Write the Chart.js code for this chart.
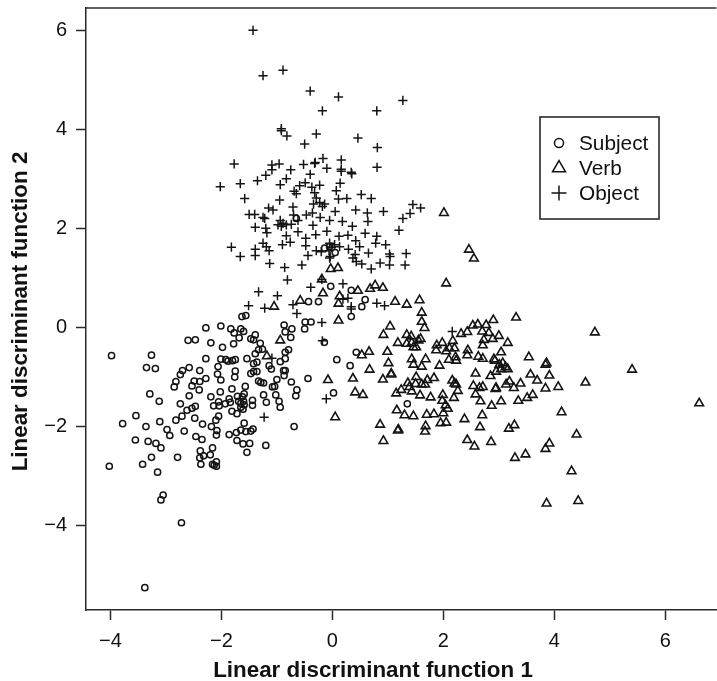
<!DOCTYPE html>
<html>
<head>
<meta charset="utf-8">
<title>Linear discriminant functions</title>
<script src="https://cdn.jsdelivr.net/npm/chart.js@4/dist/chart.umd.js"></script>
<style>
  html, body { margin: 0; padding: 0; background: #fff; overflow: hidden; width: 717px; height: 681px; }
  canvas { display: block; }
</style>
</head>
<body>
<!-- o original esta cortado a direita: o canvas passa um pouco da janela -->
<canvas id="grafico" width="723" height="681"></canvas>
<script>
// valores
const xTicks = [-4, -2, 0, 2, 4, 6];
const yTicks = [-4, -2, 0, 2, 4, 6];
const xTitle = "Linear discriminant function 1";
const yTitle = "Linear discriminant function 2";
const seriesNames = ["Subject", "Verb", "Object"];

const subject = [
  [-3.98,-0.57],[-3.26,-0.56],[-3.35,-0.81],[-3.19,-0.83],[-3.78,-1.94],[-3.54,-1.78],[-3.36,-2.00],[-3.11,-1.90],
  [-3.55,-2.27],[-3.32,-2.30],[-3.18,-2.34],[-3.09,-2.43],[-3.26,-2.62],[-3.42,-2.76],[-4.02,-2.80],[-3.15,-2.92],
  [-3.29,-1.34],[-3.12,-1.49],[-3.05,-3.38],[-3.09,-3.48],[-2.72,-3.94],[-3.38,-5.25],[-1.63,0.22],[-1.56,0.24],
  [-2.28,-0.01],[-2.01,0.03],[-1.83,-0.03],[-1.65,-0.03],[-1.77,-0.11],[-1.60,-0.08],[-1.68,-0.21],[-1.39,-0.15],
  [-1.47,-0.23],[-1.42,-0.25],[-2.60,-0.26],[-2.47,-0.25],[-2.19,-0.31],[-1.78,-0.33],[-1.98,-0.40],[-1.30,-0.32],
  [-1.26,-0.44],[-1.33,-0.45],[-1.39,-0.53],[-0.87,0.05],[-0.85,-0.09],[-0.73,-0.03],[-0.75,-0.20],[-0.50,-0.03],
  [-0.49,0.11],[-0.385,0.11],[-0.43,0.52],[-0.25,0.52],[-0.79,-0.45],[-0.85,-0.50],[-0.85,-0.63],[-0.94,-0.69],
  [-2.28,-0.63],[-2.01,-0.64],[-1.92,-0.65],[-1.88,-0.68],[-1.80,-0.67],[-1.75,-0.65],[-1.54,-0.63],[-1.36,-0.70],
  [-1.42,-0.73],[-1.14,-0.77],[-1.10,-0.84],[-2.06,-0.79],[-2.58,-0.81],[-2.70,-0.87],[-2.74,-0.95],[-2.39,-0.87],
  [-2.07,-0.94],[-1.75,-0.88],[-1.76,-1.00],[-2.28,-1.03],[-2.01,-1.06],[-2.82,-1.09],[-2.85,-1.20],[-2.49,-1.08],
  [-2.39,-1.09],[-2.53,-1.18],[-2.40,-1.26],[-1.47,-0.93],[-1.42,-0.89],[-1.36,-0.89],[-0.88,-0.87],[-0.85,-0.87],
  [-0.87,-0.97],[-0.74,-1.10],[-0.44,-1.03],[-1.00,-1.05],[-1.33,-1.08],[-1.29,-1.11],[-1.24,-1.12],[-1.08,-1.20],
  [-1.04,-1.19],[-1.57,-1.19],[-1.81,-1.24],[-2.02,-1.30],[-0.64,-1.26],[-0.66,-1.38],[-1.59,-1.34],[-1.62,-1.40],
  [-1.71,-1.39],[-2.58,-1.38],[-2.19,-1.40],[-1.24,-1.36],[-1.02,-1.36],[-0.96,-1.49],[-0.94,-1.61],[-1.19,-1.51],
  [-1.44,-1.47],[-1.44,-1.57],[-2.74,-1.54],[-2.05,-1.50],[-2.14,-1.58],[-2.04,-1.58],[-1.93,-1.54],[-1.84,-1.51],
  [-1.86,-1.44],[-1.69,-1.49],[-1.65,-1.53],[-1.60,-1.49],[-1.59,-1.56],[-1.65,-1.61],[-1.61,-1.65],[-2.47,-1.59],
  [-2.53,-1.63],[-2.62,-1.67],[-2.71,-1.79],[-2.82,-1.87],[-1.81,-1.69],[-1.72,-1.74],[-2.48,-1.83],[-2.05,-1.79],
  [-2.10,-1.87],[-2.34,-1.95],[-2.18,-2.00],[-2.98,-2.06],[-2.93,-2.18],[-2.67,-2.09],[-2.08,-2.08],[-2.09,-2.17],
  [-1.59,-1.93],[-1.65,-2.07],[-1.73,-2.12],[-1.86,-2.16],[-1.56,-2.10],[-1.47,-2.09],[-1.43,-2.05],[-2.46,-2.20],
  [-2.35,-2.26],[-0.69,-2.00],[-1.20,-2.38],[-1.72,-2.28],[-1.61,-2.35],[-1.49,-2.34],[-1.54,-2.52],[-2.16,-2.43],
  [-2.38,-2.49],[-2.32,-2.59],[-2.20,-2.57],[-2.39,-2.63],[-2.79,-2.62],[-2.37,-2.76],[-2.16,-2.76],[-2.09,-2.71],
  [-2.09,-2.80],[-2.13,-2.78],[-0.03,0.83],[0.34,0.75],[0.59,0.56],[0.53,0.42],[0.34,0.22],[-0.145,-0.30],
  [0.43,-0.50],[0.08,-0.65],[0.32,-0.77],[0.02,-1.32],[1.35,-1.54],[-0.65,2.20],[-0.05,1.63],[-0.14,1.60],[0.05,1.51]
];

const verb = [
  [-0.17,0.69],[0.13,0.63],[0.11,0.48],[0.46,0.74],[0.68,0.78],[0.77,0.85],[0.91,0.80],[2.05,0.89],[1.13,0.52],
  [1.34,0.46],[1.57,0.55],[1.61,0.30],[1.61,0.115],[1.66,-0.01],[0.11,0.14],[1.04,0.02],[0.92,-0.15],[1.34,-0.15],
  [1.42,-0.18],[1.59,-0.23],[1.55,-0.26],[1.18,-0.31],[1.34,-0.33],[1.43,-0.31],[1.46,-0.40],[1.51,-0.40],[0.66,-0.49],
  [0.53,-0.56],[0.99,-0.49],[1.43,-0.64],[1.68,-0.64],[1.01,-0.72],[1.46,-0.75],[1.61,-0.79],[1.93,-0.77],[0.67,-0.85],
  [1.06,-0.93],[1.06,-0.95],[-0.08,-1.06],[0.37,-1.03],[0.91,-1.05],[0.41,-1.31],[0.55,-1.36],[0.05,-1.81],[0.86,-1.96],
  [0.92,-2.29],[1.19,-2.06],[1.18,-2.08],[1.68,-1.99],[1.67,-2.10],[1.95,-1.93],[2.05,-1.92],[1.15,-1.33],[1.24,-1.26],
  [1.36,-1.12],[1.51,-1.00],[1.39,-1.20],[1.43,-1.29],[1.50,-1.14],[1.61,-1.15],[1.67,-1.15],[1.71,-1.06],[1.83,-1.02],
  [1.58,-1.37],[1.77,-1.41],[1.99,-1.36],[1.98,-1.48],[2.04,-1.57],[2.08,-1.64],[2.00,-1.73],[1.16,-1.67],[1.30,-1.77],
  [1.46,-1.79],[1.70,-1.76],[1.83,-1.75],[2.19,-1.42],[2.26,-1.28],[2.16,-1.07],[2.20,-1.13],[2.23,-1.15],[2.38,-1.85],
  [2.70,-1.77],[2.66,-2.01],[2.43,-2.27],[2.56,-2.40],[2.86,-2.31],[3.18,-2.04],[3.28,-1.97],[3.29,-2.63],[3.48,-2.56],
  [3.84,-2.45],[3.91,-2.34],[4.31,-2.90],[4.40,-2.16],[4.13,-1.71],[2.87,-1.58],[3.04,-1.49],[2.67,-1.49],[2.58,-1.35],
  [2.54,-1.18],[2.71,-1.20],[2.65,-1.22],[2.95,-1.22],[2.94,-1.24],[3.35,-1.48],[3.51,-1.42],[3.61,-1.36],[3.84,-1.23],
  [4.07,-1.20],[3.39,-1.13],[3.19,-1.09],[3.13,-1.15],[3.27,-1.22],[3.69,-1.07],[3.57,-0.95],[3.91,-0.97],[2.58,-0.93],
  [2.85,-0.98],[3.54,-0.60],[3.84,-0.75],[3.86,-0.72],[2.95,-0.89],[3.04,-0.84],[3.01,-0.75],[3.07,-0.72],[3.16,-0.84],
  [3.12,-0.80],[2.91,-0.64],[2.93,-0.67],[3.04,-0.50],[2.71,-0.63],[2.63,-0.59],[2.43,-0.56],[2.44,-0.46],[2.10,-0.65],
  [2.23,-0.67],[2.22,-0.60],[2.20,-0.42],[2.05,-0.48],[1.87,-0.46],[1.88,-0.36],[1.98,-0.31],[2.11,-0.42],[2.17,-0.27],
  [2.32,-0.13],[2.43,-0.09],[2.53,0.04],[2.62,0.06],[2.77,0.05],[2.90,0.15],[3.31,0.20],[2.70,-0.08],[2.82,-0.11],
  [3.00,-0.17],[3.16,-0.31],[2.73,-0.25],[2.71,-0.36],[2.89,-0.23],[4.73,-0.10],[5.40,-0.85],[6.61,-1.53],[4.56,-1.11],
  [4.43,-3.50],[3.86,-3.55],[2.01,2.31],[2.46,1.57],[2.55,1.39],[-0.03,1.18],[0.10,1.20],[-0.19,0.97],[-0.58,0.54],
  [-1.05,0.42],[-0.94,-0.26],[-1.18,-0.58]
];

const object = [
  [-0.82,3.865],[-0.92,3.97],[-0.29,3.905],[-0.50,3.70],[0.46,3.82],[0.81,3.63],[0.805,3.23],[0.16,3.38],[-0.17,3.41],
  [-0.31,3.33],[-0.32,3.31],[-0.52,3.29],[-0.10,3.21],[0.16,3.19],[0.16,3.15],[0.34,3.13],[0.35,3.10],[-1.77,3.30],
  [-1.09,3.28],[-0.96,3.30],[-1.09,3.18],[-0.75,3.18],[-0.40,3.09],[-1.20,3.07],[-1.35,2.96],[-1.66,2.90],[-2.02,2.84],
  [-0.83,3.00],[-0.94,2.88],[-0.49,2.92],[-0.59,2.86],[-0.23,2.87],[-0.37,2.83],[0.14,2.91],[-0.69,2.75],[-0.65,2.70],
  [-0.32,2.72],[0.07,2.76],[-1.58,2.60],[-0.95,2.57],[-0.29,2.61],[0.11,2.59],[0.26,2.60],[0.52,2.68],[0.70,2.60],
  [-0.34,2.49],[-0.23,2.52],[-0.14,2.49],[-0.18,2.44],[-0.71,2.43],[-1.15,2.41],[-1.07,2.37],[-1.50,2.28],[-1.40,2.28],
  [-1.25,2.22],[-1.22,2.20],[-0.70,2.27],[-0.47,2.27],[-0.36,2.31],[-0.22,2.22],[0.05,2.34],[-0.05,2.16],[0.18,2.14],
  [0.42,2.37],[0.63,2.31],[0.92,2.34],[1.45,2.48],[1.59,2.41],[1.40,2.30],[1.27,2.20],[0.64,2.14],[1.20,1.96],
  [-0.94,2.16],[-0.89,2.10],[-0.98,2.07],[-0.92,2.04],[-0.83,2.07],[-0.74,2.08],[-0.62,2.16],[-1.39,2.02],[-1.20,2.00],
  [-1.18,1.91],[-0.83,1.85],[-0.62,1.93],[-0.35,2.06],[-0.30,1.87],[-0.10,1.94],[-0.48,1.80],[0.12,1.84],[0.28,1.86],
  [0.36,2.04],[0.59,1.90],[0.42,1.75],[0.80,1.84],[0.78,1.70],[0.96,1.67],[0.49,1.63],[0.29,1.58],[-0.48,1.65],
  [-0.76,1.72],[-0.90,1.67],[-1.25,1.70],[-1.19,1.63],[-1.82,1.62],[-1.39,1.58],[-1.14,1.55],[-1.39,1.45],[-1.66,1.43],
  [-1.13,1.29],[-0.86,1.21],[-0.55,1.26],[-0.44,1.45],[-0.29,1.55],[-0.20,1.53],[-0.05,1.70],[-0.02,1.62],[-0.06,1.55],
  [0.04,1.67],[0.13,1.63],[-0.04,1.43],[-0.05,1.40],[0.65,1.50],[0.37,1.40],[0.41,1.47],[0.43,1.33],[0.53,1.28],
  [0.86,1.30],[0.70,1.18],[1.03,1.26],[1.04,1.43],[1.33,1.49],[1.31,1.26],[1.03,1.48],[-0.81,0.96],[-0.19,0.97],
  [-0.39,0.81],[0.19,0.88],[-1.33,0.72],[-0.99,0.64],[-1.51,0.44],[-1.22,0.39],[-0.71,0.46],[0.28,0.59],[0.34,0.42],
  [0.80,0.49],[0.94,0.44],[-1.43,5.995],[-1.25,5.08],[-0.89,5.19],[-0.40,4.77],[0.11,4.65],[-0.18,4.37],[0.80,4.37],
  [1.27,4.58],[-0.92,4.01],[0.19,0.57],[0.34,0.37],[-0.19,0.10],[-0.18,-0.27],[2.16,-0.08],[-0.11,-1.44],[-0.64,0.28],
  [-1.09,-0.62],[-1.23,-1.81]
];

const corTexto = "#111";
const corEixo = "#2a2a2a";
const corPonto = "#141414";

function paraPontos(lista) {
  return lista.map(function (p) { return { x: p[0], y: p[1] }; });
}

// caixa superior, titulos deslocados e legenda
const moldura = {
  id: "moldura",
  afterDraw(chart) {
    const ctx = chart.ctx;
    const area = chart.chartArea;
    ctx.save();
    ctx.strokeStyle = corEixo;
    ctx.lineWidth = 1.5;
    ctx.beginPath();
    ctx.moveTo(area.left, area.top);
    ctx.lineTo(area.right, area.top);
    ctx.stroke();

    ctx.fillStyle = corTexto;
    ctx.font = "bold 22.4px 'Liberation Sans'";
    ctx.textAlign = "center";
    ctx.textBaseline = "middle";
    ctx.fillText(xTitle, 373, 671);
    ctx.save();
    ctx.translate(21, 311.5);
    ctx.rotate(-Math.PI / 2);
    ctx.fillText(yTitle, 0, 0);
    ctx.restore();

    // legenda
    ctx.fillStyle = "#fff";
    ctx.fillRect(540, 117, 119, 102);
    ctx.strokeStyle = corEixo;
    ctx.lineWidth = 1.6;
    ctx.strokeRect(540, 117, 119, 102);
    const estilos = [
      { pointStyle: "circle", radius: 4.5, y: 143 },
      { pointStyle: "triangle", radius: 7.5, y: 168 },
      { pointStyle: "cross", radius: 7.5, y: 193 }
    ];
    ctx.font = "20.8px 'Liberation Sans'";
    ctx.textAlign = "left";
    seriesNames.forEach(function (nome, i) {
      ctx.save();
      ctx.strokeStyle = corPonto;
      ctx.fillStyle = "rgba(0,0,0,0)";
      ctx.lineWidth = 1.5;
      Chart.helpers.drawPoint(ctx, { pointStyle: estilos[i].pointStyle, radius: estilos[i].radius, rotation: 0, borderWidth: 1.5 }, 559, estilos[i].y);
      ctx.restore();
      ctx.fillStyle = corTexto;
      ctx.fillText(nome, 579, estilos[i].y + 1);
    });
    ctx.restore();
  }
};

function eixo(valores, min, max) {
  return {
    type: "linear",
    min: min,
    max: max,
    afterBuildTicks(scale) {
      scale.ticks = valores.map(function (v) { return { value: v }; });
    },
    border: { display: true, color: corEixo, width: 1.5 },
    grid: { drawOnChartArea: false, drawTicks: true, tickLength: 10, tickColor: corEixo, tickWidth: 1.5 },
    ticks: {
      color: corTexto,
      font: { family: "'Liberation Sans'", size: 20 },
      maxRotation: 0,
      autoSkip: false,
      padding: 9,
      callback(v) { return String(v).replace("-", "\u2212"); }
    }
  };
}

// margens das etiquetas zeradas para a area do grafico ficar no lugar certo
function semMargens(scale) {
  scale.paddingLeft = 0;
  scale.paddingRight = 0;
  scale.paddingTop = 0;
  scale.paddingBottom = 0;
}

const escalaX = eixo(xTicks, -4.44, 6.92);
escalaX.afterFit = function (scale) { semMargens(scale); scale.height = 71; };
const escalaY = eixo(yTicks, -5.70, 6.445);
escalaY.afterFit = function (scale) { semMargens(scale); scale.width = 86; };

const ctx = document.getElementById("grafico").getContext("2d");
const myChart = new Chart(ctx, {
  type: "scatter",
  data: {
    datasets: [
      { label: seriesNames[0], data: paraPontos(subject), pointStyle: "circle", pointRadius: 3.1, pointBorderWidth: 1.5, pointBorderColor: corPonto, pointBackgroundColor: "rgba(0,0,0,0)" },
      { label: seriesNames[1], data: paraPontos(verb), pointStyle: "triangle", pointRadius: 5, pointBorderWidth: 1.6, pointBorderColor: corPonto, pointBackgroundColor: "rgba(0,0,0,0)" },
      { label: seriesNames[2], data: paraPontos(object), pointStyle: "cross", pointRadius: 4.6, pointBorderWidth: 1.5, pointBorderColor: corPonto, pointBackgroundColor: "rgba(0,0,0,0)" }
    ]
  },
  options: {
    responsive: false,
    animation: false,
    layout: { padding: { top: 8, right: 0, left: 0, bottom: 0 } },
    plugins: { legend: { display: false }, tooltip: { enabled: false } },
    scales: { x: escalaX, y: escalaY }
  },
  plugins: [moldura]
});
</script>
</body>
</html>
